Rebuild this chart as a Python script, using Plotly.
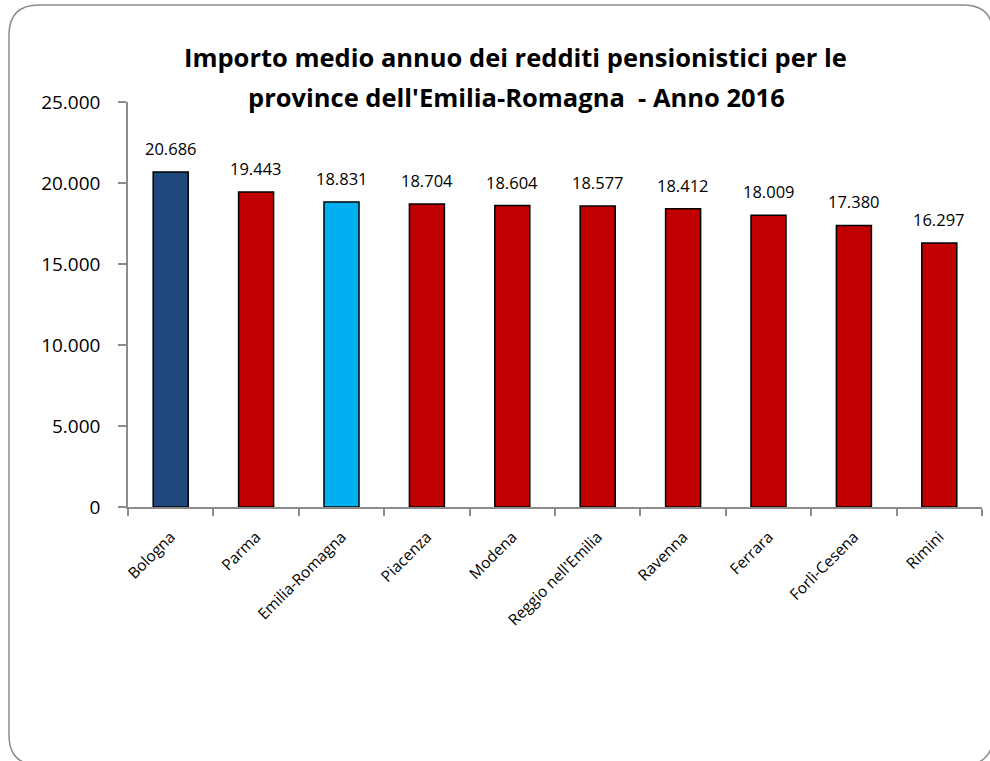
import plotly.graph_objects as go

# Average yearly pension income by province (euro), 2016
provinces = ["Bologna", "Parma", "Emilia-Romagna", "Piacenza", "Modena",
             "Reggio nell'Emilia", "Ravenna", "Ferrara", "Forlì-Cesena", "Rimini"]
amounts = [20686, 19443, 18831, 18704, 18604, 18577, 18412, 18009, 17380, 16297]
bar_colors = ["#1F497D", "#C00000", "#00B0F0", "#C00000", "#C00000",
              "#C00000", "#C00000", "#C00000", "#C00000", "#C00000"]
y_ticks = [0, 5000, 10000, 15000, 20000, 25000]

W, H = 990, 761
ML, MR, MT, MB = 128, 8, 102, 254
PW, PH = W - ML - MR, H - MT - MB

FONT = "'Open Sans', Lato, sans-serif"


def it_num(v):
    return f"{v:,}".replace(",", ".")


def px_x(p):
    return (p - ML) / PW


def px_y(p):
    return (H - MB - p) / PH


fig = go.Figure()
fig.add_trace(go.Bar(
    x=provinces, y=amounts,
    marker=dict(color=bar_colors, line=dict(color="#000000", width=1.5)),
    width=0.41,
    hoverinfo="x+y",
))

# value labels above each bar
for p, v in zip(provinces, amounts):
    fig.add_annotation(x=p, y=v, text=it_num(v), showarrow=False,
                       yanchor="bottom", yshift=10,
                       font=dict(family=FONT, size=16.5, color="#000000"))

# two-line title
fig.add_annotation(x=px_x(515), y=px_y(57), xref="paper", yref="paper",
                   text="<b>Importo medio annuo dei redditi pensionistici per le</b>",
                   showarrow=False, xanchor="center", yanchor="middle",
                   font=dict(family=FONT, size=25.5, color="#000000"))
fig.add_annotation(x=px_x(516), y=px_y(97), xref="paper", yref="paper",
                   text="<b>province dell'Emilia-Romagna  - Anno 2016</b>",
                   showarrow=False, xanchor="center", yanchor="middle",
                   font=dict(family=FONT, size=25.5, color="#000000"))

# rounded chart frame
x0, x1 = px_x(9), px_x(993)
y0, y1 = px_y(765), px_y(5)
rx, ry = 30 / PW, 30 / PH
path = (f"M {x0+rx},{y1} L {x1-rx},{y1} Q {x1},{y1} {x1},{y1-ry} "
        f"L {x1},{y0+ry} Q {x1},{y0} {x1-rx},{y0} "
        f"L {x0+rx},{y0} Q {x0},{y0} {x0},{y0+ry} "
        f"L {x0},{y1-ry} Q {x0},{y1} {x0+rx},{y1} Z")
fig.add_shape(type="path", path=path, xref="paper", yref="paper",
              line=dict(color="#8C8C8C", width=1.5), layer="below")

fig.update_layout(
    width=W, height=H,
    margin=dict(l=ML, r=MR, t=MT, b=MB),
    paper_bgcolor="#FFFFFF", plot_bgcolor="#FFFFFF",
    separators=",.",
    showlegend=False,
    font=dict(family=FONT, color="#000000"),
)
fig.update_xaxes(
    type="category", tickson="boundaries",
    showline=True, linecolor="#8C8C8C", linewidth=1.5,
    ticks="outside", ticklen=7, tickcolor="#8C8C8C", tickwidth=1.5,
    tickangle=-45, tickfont=dict(family=FONT, size=15.5, color="#000000"),
    ticklabelstandoff=13,
    showgrid=False, zeroline=False,
)
fig.update_yaxes(
    range=[0, 25000], tickvals=y_ticks, ticktext=[it_num(t) for t in y_ticks],
    showline=True, linecolor="#8C8C8C", linewidth=1.5,
    ticks="outside", ticklen=8, tickcolor="#8C8C8C", tickwidth=1.5,
    tickfont=dict(family=FONT, size=19, color="#000000"),
    ticklabelstandoff=14,
    showgrid=False, zeroline=False,
)

fig.write_html("out.html")
